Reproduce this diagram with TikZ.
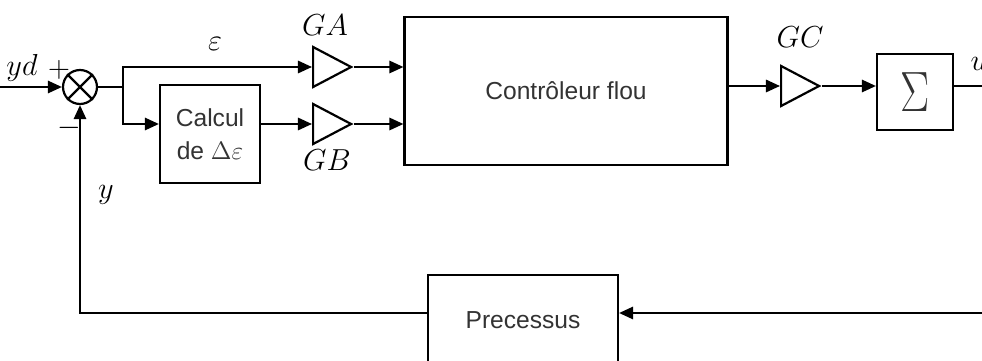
\documentclass[tikz,border=0pt]{standalone}
\usepackage{fontspec}
\setsansfont{Liberation Sans}
\usepackage{graphicx}
\usepackage{tikz}
\usetikzlibrary{arrows.meta,positioning,shapes.geometric}

\begin{document}
\begin{tikzpicture}[x=0.02cm,y=-0.02cm,>={Triangle[length=8pt,width=7pt]},line width=1.25pt,
    blk/.style={draw,align=center,font=\sffamily\fontsize{14}{19}\selectfont,text=black!80,inner sep=2pt},
    gain/.style={draw,isosceles triangle,isosceles triangle stretches,inner sep=0pt,
      minimum width=0.8cm,minimum height=0.76cm,anchor=west},
    lab/.style={font=\fontsize{16}{18}\selectfont}]
    \useasboundingbox (0,0) rectangle (982,361);
    \clip (0,0) rectangle (982,361);
    % comparator
    \coordinate (in) at (-5,87);
    \node[draw,circle,minimum size=0.68cm,inner sep=0pt] (sum) at (80,87) {};
    \draw (sum.45) -- (sum.225) (sum.135) -- (sum.315);
    \coordinate (jn) at (123,87);
    % blocks
    \node[blk,minimum width=2cm,minimum height=1.96cm] (calc) at (210,134) {Calcul\\de $\Delta\varepsilon$};
    \node[gain] (gA) at (312,67) {};
    \node[gain] (gB) at (312,124) {};
    \node[blk,minimum width=6.46cm,minimum height=2.96cm] (fuzzy) at (566,91) {Contrôleur flou};
    \node[gain] (gC) at (780,86) {};
    \node[blk,minimum width=1.52cm,minimum height=1.52cm,font=\fontsize{25}{25}\selectfont] (sig) at (915,92)
      {\scalebox{1}[1.3]{$\Sigma$}};
    \node[blk,minimum width=3.8cm,minimum height=1.8cm] (proc) at (523,320) {Precessus};
    \coordinate (u) at (1000,86);
    \coordinate (fb) at (1000,313);
    % signal paths
    \draw[->] (in) -- (sum);
    \draw (sum) -- (jn);
    \draw[->] (jn) |- (gA.west);
    \draw[->] (jn) |- (calc.west |- gB.west);
    \draw[->] (calc.east |- gB.west) -- (gB.west);
    \draw[->] (gA.east) -- (fuzzy.west |- gA.east);
    \draw[->] (gB.east) -- (fuzzy.west |- gB.east);
    \draw[->] (fuzzy.east |- gC.west) -- (gC.west);
    \draw[->] (gC.east) -- (sig.west |- gC.east);
    \draw (sig.east |- gC.east) -- (u) -- (fb);
    \draw[->] (fb) -- (proc.east |- fb);
    \draw[->] (proc.west |- fb) -| (sum.south);
    % labels
    \node[lab] (ydl) at (22,68) {$yd$};
    \node[lab] (plus) at (59,70) {$+$};
    \node[lab] (minus) at (69,128) {$-$};
    \node[lab] (yl) at (106,195) {$y$};
    \node[lab] (epsl) at (215,44) {$\varepsilon$};
    \node[lab] (gAl) at (325,25) {$GA$};
    \node[lab] (gBl) at (327,160) {$GB$};
    \node[lab] (gCl) at (800,37) {$GC$};
    \node[lab] (ul) at (979,64) {$u$};
\end{tikzpicture}
\end{document}
